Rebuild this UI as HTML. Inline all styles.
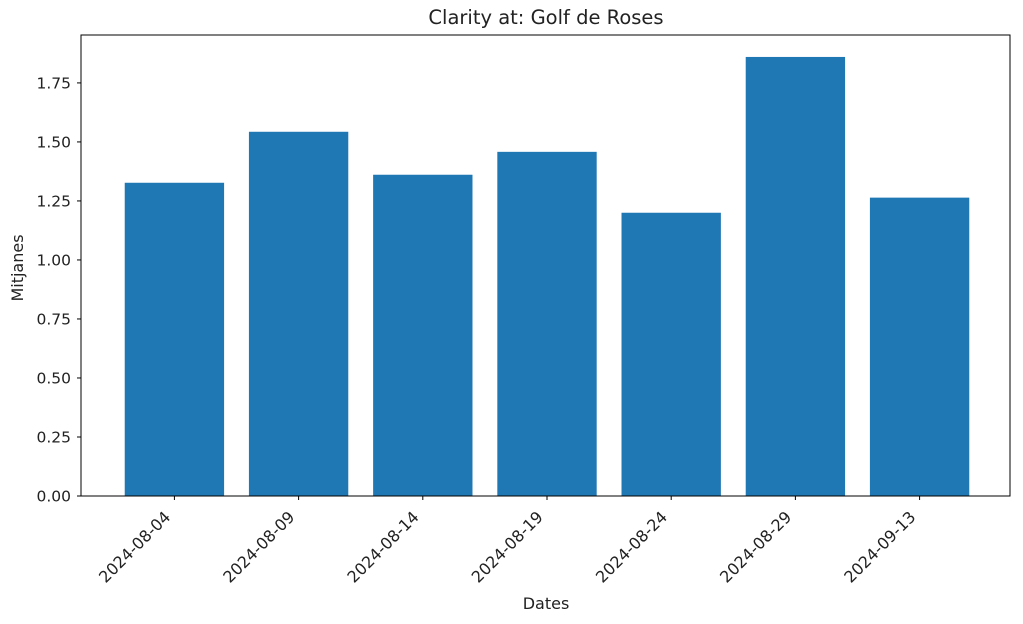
<!DOCTYPE html>
<html><head><meta charset="utf-8"><style>
body{margin:0;background:#fff;}
svg{display:block;font-family:"DejaVu Sans","Liberation Sans",sans-serif;}
</style></head><body>
<svg id="chart" width="1023" height="624">
<text x="546" y="24" font-size="19.5" text-anchor="middle" fill="#222">Clarity at: Golf de Roses</text>
<text x="546" y="609" font-size="16" text-anchor="middle" fill="#222">Dates</text>
<text x="0" y="0" font-size="16" text-anchor="middle" fill="#222" transform="translate(23,268) rotate(-90)">Mitjanes</text>
<g id="bars"></g><g id="axes"></g>
</svg>
<script>
const categories=["2024-08-04","2024-08-09","2024-08-14","2024-08-19","2024-08-24","2024-08-29","2024-09-13"];
const values=[1.327,1.543,1.361,1.458,1.200,1.860,1.264];
const yTicks=[0,0.25,0.5,0.75,1.0,1.25,1.5,1.75];
const L=81,R=1010,T=35,B=496;
const NS="http://www.w3.org/2000/svg";
const ymax=Math.max(...values)*1.05;
const xmin=-0.4-0.05*(categories.length-1+0.8), xmax=categories.length-1+0.4+0.05*(categories.length-1+0.8);
function xs(i){return L+1.5+(i-xmin)/(xmax-xmin)*(R-L);}
function ys(v){return B-v/ymax*(B-T);}
function mk(t,a,p){const e=document.createElementNS(NS,t);for(const k in a)e.setAttribute(k,a[k]);p.appendChild(e);return e;}
const bars=document.getElementById('bars'),axes=document.getElementById('axes');
const bw=0.8/(xmax-xmin)*(R-L);
values.forEach((v,i)=>{
 const r=mk('rect',{x:xs(i)-bw/2,y:ys(v),width:bw,height:B-ys(v),fill:'#1f77b4'},bars);
 
 
});
const fr=mk('rect',{x:L,y:T,width:R-L,height:B-T,fill:'none',stroke:'#000','stroke-width':1},axes);


yTicks.forEach(v=>{
 const y=ys(v);
 mk('line',{x1:L-4,x2:L,y1:y,y2:y,stroke:'#000'},axes);
 const t=mk('text',{x:L-10,y:y+5.5,'font-size':15.5,'text-anchor':'end',fill:'#222'},axes);
 t.textContent=v.toFixed(2);
 
 
});
categories.forEach((c,i)=>{
 const x=xs(i);
 mk('line',{x1:x,x2:x,y1:B,y2:B+4,stroke:'#000'},axes);
 const t=mk('text',{x:0,y:0,'font-size':16,'text-anchor':'end',fill:'#222',transform:`translate(${x-3},${B+22}) rotate(-45)`},axes);
 t.textContent=c;
 
 
});
</script>
</body></html>
